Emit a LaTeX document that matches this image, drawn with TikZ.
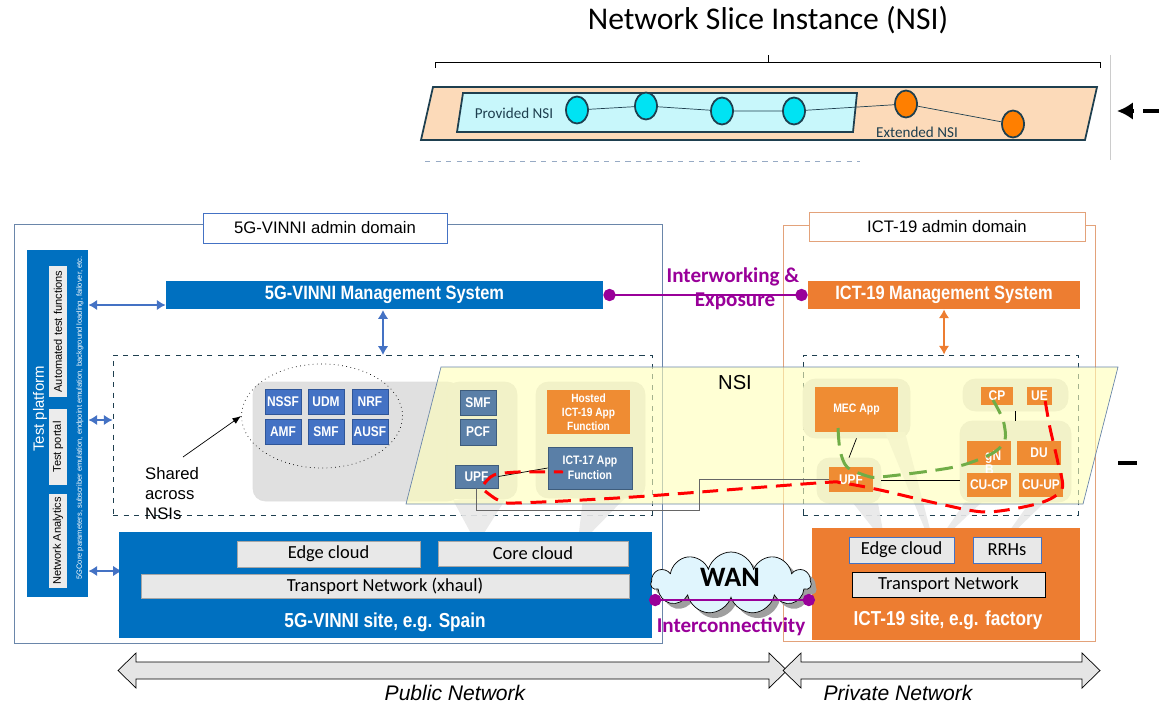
\documentclass[tikz,border=0pt]{standalone}
\usepackage{fontspec}
\setmainfont{Liberation Sans}
\newfontfamily\calib{Carlito}
\newfontfamily\nrw[FakeStretch=0.85]{Liberation Sans}
\usetikzlibrary{shapes.geometric,shapes.symbols,arrows.meta,calc,shadows}

\definecolor{blueM}{HTML}{0070C0}
\definecolor{fnB}{HTML}{4472C4}
\definecolor{fnBd}{HTML}{2F5597}
\definecolor{slate}{HTML}{5A7FA7}
\definecolor{slateD}{HTML}{3E5C7C}
\definecolor{orM}{HTML}{ED7D31}
\definecolor{orI}{HTML}{EF8C33}
\definecolor{purp}{HTML}{990099}
\definecolor{peach}{HTML}{FCDAB9}
\definecolor{cyanL}{HTML}{C8F7FB}
\definecolor{cyanC}{HTML}{00E3F3}
\definecolor{orC}{HTML}{FF7F00}
\definecolor{tealD}{HTML}{1E3F4F}
\definecolor{yel}{HTML}{FFFFB8}
\definecolor{grB}{HTML}{E0E0E0}
\definecolor{greenD}{HTML}{70AD47}
\definecolor{domB}{HTML}{6A86AA}
\definecolor{domO}{HTML}{E3A27A}

\begin{document}
\begin{tikzpicture}[x=0.02cm, y=-0.02cm,
            sz/.style 2 args={
              minimum width=#1*0.02cm,
              minimum height=#2*0.02cm,
              inner sep=0pt
            },
            fn/.style={draw=fnBd, fill=fnB, text=white,
              font=\nrw\bfseries\fontsize{8}{9}\selectfont},
            sl/.style={draw=slateD, fill=slate, text=white,
              font=\nrw\bfseries\fontsize{8}{9}\selectfont},
            ob/.style={fill=orI, text=white,
              font=\nrw\bfseries\fontsize{8}{9}\selectfont},
            gb/.style={fill=grB, draw=gray!25, rounded corners=7pt},
            cl/.style={fill=gray!18, draw=gray!70,
              font=\calib\fontsize{10.5}{12}\selectfont},
            bar/.style={text=white,
              font=\nrw\bfseries\fontsize{11}{13}\selectfont},
            barr/.style={{Latex[length=5pt,width=6pt]}-{Latex[length=5pt,width=6pt]},
              line width=1.5pt},
            nd/.style={ellipse, draw=tealD, line width=1pt, sz={22}{27}},
            wdg/.style={fill=gray!18, opacity=.9},
            ttl/.style={fill=white, font=\fontsize{9.5}{11}\selectfont},
            pl/.style={text=purp, font=\calib\bfseries\fontsize{12}{14}\selectfont},
            pln/.style={{Circle[length=7pt]}-{Circle[length=7pt]}, draw=purp, line width=1.3pt},
            rd/.style={draw=red, line width=1.7pt, dash pattern=on 9pt off 5pt},
            gd/.style={draw=greenD, line width=1.7pt, dash pattern=on 10pt off 5pt}
        ]
\useasboundingbox (0,0) rectangle (1159,706);

% NSI panel on top
\node[font=\calib\fontsize{18}{20}\selectfont] (title) at (768,20) {Network Slice Instance (NSI)};
\draw (435,68) -- (435,62) -- (1100,62) -- (1100,68);
\draw (768,62) -- (768,55);
\draw[gray!40] (1110,55) -- (1110,160);
\draw[fill=peach, draw=tealD, line width=1pt] (433,87) -- (1097,87) -- (1085,140) -- (421,140) -- cycle;
\draw[fill=cyanL, draw=tealD, line width=1pt] (463,93) -- (857,93) -- (853,132) -- (457,132) -- cycle;
\node[text=tealD, font=\calib\fontsize{8.6}{10}\selectfont] (prov) at (514,113) {Provided NSI};
\node[text=tealD, font=\calib\fontsize{8.6}{10}\selectfont] (ext) at (917,132) {Extended NSI};
\foreach \n/\x/\y in {c1/577/110, c2/646/106, c3/722/111, c4/794/111}
    \node[nd, fill=cyanC] (\n) at (\x,\y) {};
\foreach \n/\x/\y in {e1/906/104, e2/1013/124}
    \node[nd, fill=orC] (\n) at (\x,\y) {};
\draw[tealD] (c1) -- (c2) -- (c3) -- (c4) -- (e1) -- (e2);
\draw[dashed, domB!70] (425,161) -- (860,161);
\coordinate (tipA) at (1117,111);
\draw[line width=2pt] (1143,111) -- (1159,111);
\draw[line width=2pt, -{Latex[length=9pt,width=10pt]}] (1134,111) -- (tipA);
\draw[line width=2pt] (1118,463) -- (1137,463);

% admin domains
\draw[domB] (14,224) rectangle (662,643);
\node[ttl, draw=fnB, sz={244}{30}] (dom1) at (325,228) {5G-VINNI admin domain};
\draw[domO] (783,225) rectangle (1095,641);
\node[ttl, draw=domO, sz={276}{29}] (dom2) at (947,227) {ICT-19 admin domain};

% test platform
\node[fill=blueM, sz={61}{347}] (tp) at (57.5,423.5) {};
\node[rotate=90, text=white, font=\fontsize{8.5}{10}\selectfont] (tpl) at (40,409) {Test platform};
\foreach \n/\t/\y/\l in {tf1/Automated test functions/331.5/131, tf2/Test portal/447/76, tf3/Network Analytics/541/94}
    \node[rotate=90, fill=gray!15, sz={\l}{18}, font=\fontsize{6.3}{7}\selectfont] (\n) at (58,\y) {\t};
\node[rotate=90, text=white, font=\fontsize{4.3}{5}\selectfont] (tpd) at (80,418)
    {5GCore parameters, subscriber emulation, endpoint emulation, background loading, failover, etc.};

% management systems
\node[bar, fill=blueM, sz={437}{28}] (mg1) at (384.5,295) {5G-VINNI Management System};
\node[bar, fill=orM, sz={272}{28}] (mg2) at (944,295) {ICT-19 Management System};
\draw[pln] (mg1.east) -- (mg2.west);
\node[pl] (iw1) at (733,277) {Interworking \&};
\node[pl] (iw2) at (735,301) {Exposure};

% slice areas
\node[draw=tealD, dashed, sz={539}{160}] (dsh1) at (382.5,435) {};
\node[draw=tealD, dashed, sz={275}{160}] (dsh2) at (940.5,435) {};

\coordinate (a1) at (tp.east |- 0,305);
\coordinate (a2) at (tp.east |- 0,420);
\coordinate (a3) at (tp.east |- 0,571);
\draw[barr, fnB] (a1) -- (a1 -| mg1.west);
\draw[barr, fnB] (a2) -- (a2 -| dsh1.west);
\draw[barr, fnB] (a3) -- (122,571);
\draw[barr, fnB] (383,310) -- (383,355);
\draw[barr, orM, line width=1.2pt] (mg2.south) -- (mg2.south |- dsh2.north);

% grey boxes under the NSI
\node[gb, sz={207}{119}] (shb) at (356.5,441.5) {};
\node[gb, sz={70}{117}] (cb1) at (482,440.5) {};
\node[gb, sz={109}{116}] (cb2) at (590.5,440) {};
\node[gb, sz={107}{59}] (mecb) at (856.5,408.5) {};
\node[gb, sz={64}{45}] (upfbb) at (849,480.5) {};
\node[gb, sz={105}{32}] (cpb) at (1015.5,395) {};
\node[gb, sz={111}{81}] (gnbb) at (1015.5,461.5) {};

\node[ellipse, draw, dotted, sz={161}{104}] (shr) at (322,416) {};
\foreach \n/\t/\x/\y in {nssf/NSSF/283/402, udm/UDM/326/402, nrf/NRF/370/402,
                         amf/AMF/283/431.5, smfa/SMF/326/431.5, ausf/AUSF/370/431.5}
    \node[fn, sz={36}{25}] (\n) at (\x,\y) {\t};
\node[align=left, anchor=north west, font=\fontsize{9.5}{11.4}\selectfont] (shtxt) at (139,461) {Shared\\across\\NSIs};
\draw[-{Latex[length=5pt]}] (183,457) -- (shr.west);

% callouts to the clouds
\fill[wdg] (453,500) -- (505,500) -- (479,541) -- (475,541) -- cycle;
\fill[wdg] (583,498) -- (625,498) -- (583,541) -- (578,541) -- cycle;
\fill[wdg] (853,503) -- (878,503) -- (884,537) -- (880,537) -- cycle;
\fill[wdg] (885,432) -- (905,432) -- (932,537) -- (928,537) -- cycle;
\fill[wdg] (965,502) -- (982,502) -- (945,537) -- (941,537) -- cycle;
\fill[wdg] (1030,502) -- (1045,502) -- (1009,537) -- (1005,537) -- cycle;

% the NSI
\draw[fill=yel, fill opacity=.6, draw=domB] (441,367) -- (1118,367) -- (1083,504) -- (406,504) -- cycle;
\node[font=\fontsize{11.5}{13}\selectfont] (nsi) at (735,383) {NSI};

\node[sl, sz={36}{25}] (smfb) at (478,402.5) {SMF};
\node[sl, sz={36}{26}] (pcf) at (478,432) {PCF};
\node[sl, sz={43}{23}] (upfa) at (476.5,476.5) {UPF};
\node[ob, sz={83}{44}, align=center, font=\nrw\bfseries\fontsize{6.8}{8}\selectfont] (host) at (588.5,412) {Hosted\\ICT-19 App\\Function};
\node[sl, sz={84}{42}, align=center, font=\nrw\bfseries\fontsize{7}{8.5}\selectfont] (ict17) at (590,468) {ICT-17 App\\Function};
\node[ob, sz={83}{45}, font=\nrw\bfseries\fontsize{7}{8}\selectfont] (mec) at (856.5,409.5) {MEC App};
\node[ob, sz={44}{25}] (upfb) at (851,479.5) {UPF};
\node[ob, sz={32}{18}] (cp) at (997,396) {CP};
\node[ob, sz={25}{18}] (ue) at (1039.5,396) {UE};
\node[ob, sz={44}{24}] (gnb) at (989,453) {};
\node[text=white, align=left, anchor=north west, font=\nrw\bfseries\fontsize{8}{8}\selectfont] (gnbt) at (979,445) {gN\\B};
\node[ob, sz={44}{24}] (du) at (1039,453) {DU};
\node[ob, sz={44}{24}] (cucp) at (989,485) {CU-CP};
\node[ob, sz={44}{24}] (cuup) at (1041,485) {CU-UP};

\draw (upfa.east) -- (ict17.west);
\draw (mecb.south) -- (upfbb.north);
\draw (cpb.south) -- (gnbb.north);
\draw (upfbb.east) -- (upfbb.east -| gnbb.west);
\draw[black!60] (upfa.south) |- (699,510) |- (upfb.west);

\draw[rd] plot[smooth] coordinates {(484,484) (494,475) (518,472) (563,472)};
\draw[rd] plot[smooth] coordinates {(485,491) (498,500) (515,503) (633,497) (817,483) (842,483) (880,490) (940,504) (987,512) (1040,503) (1062,489) (1058,463) (1050,428) (1045,400)};
\draw[gd] plot[smooth] coordinates {(838,428) (840,450) (847,467) (867,476) (880,477) (930,471) (963,465) (993,453) (1005,440) (1003,420) (993,400)};

% sites
\node[fill=blueM, sz={533}{106}] (site1) at (385.5,585) {};
\node[cl, sz={183}{26}] (edge1) at (328.5,554) {Edge cloud};
\node[cl, sz={190}{25}] (core1) at (533,553.5) {Core cloud};
\node[cl, sz={488}{24}] (trn1) at (385,586) {Transport Network (xhaul)};
\node[bar, font=\nrw\bfseries\fontsize{11.5}{13}\selectfont] (s1l) at (385,622) {5G-VINNI site, e.g. Spain};

\node[fill=orM, sz={268}{112}] (site2) at (946,584) {};
\node[cl, draw=fnB, sz={105}{26}] (edge2) at (901.5,550) {Edge cloud};
\node[cl, draw=fnB, sz={68}{26}] (rrh) at (1007,550) {RRHs};
\node[cl, draw=black, sz={193}{25}] (trn2) at (948.5,584.5) {Transport Network};
\node[bar, font=\nrw\bfseries\fontsize{11.5}{13}\selectfont] (s2l) at (948,620) {ICT-19 site, e.g. factory};

\node[cloud, cloud puffs=11, cloud ignores aspect, draw, fill=cyan!12, sz={160}{62},
      drop shadow={shadow xshift=3pt, shadow yshift=-3pt, fill=gray!75, opacity=1}] (wan) at (731,583) {};
\node[font=\calib\bfseries\fontsize{16}{18}\selectfont] (wanl) at (730,577) {WAN};
\coordinate (ic1) at (649,600);
\coordinate (ic2) at (815,600);
\draw[pln] (ic1) -- (ic2);
\node[pl] (icl) at (731,627) {Interconnectivity};

% public / private
\foreach \a/\b in {118/787, 783/1100}
    \draw[fill=gray!20] (\a,670.5) -- (\a+18,653) -- (\a+18,662) -- (\b-18,662) -- (\b-18,653)
        -- (\b,670.5) -- (\b-18,688) -- (\b-18,679) -- (\a+18,679) -- (\a+18,688) -- cycle;
\node[font=\itshape\fontsize{12}{14}\selectfont] (pub) at (455,693) {Public Network};
\node[font=\itshape\fontsize{12}{14}\selectfont] (prv) at (898,693) {Private Network};

\end{tikzpicture}
\end{document}
